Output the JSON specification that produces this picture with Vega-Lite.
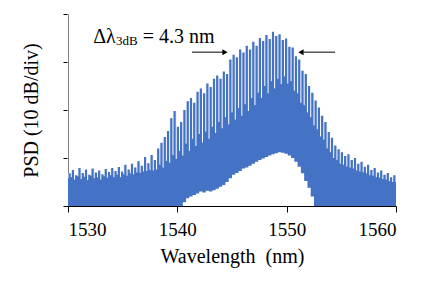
{
  "$schema": "https://vega.github.io/schema/vega-lite/v6.json",
  "autosize": {"type": "none"},
  "padding": {"left": 68, "top": 14, "right": 36, "bottom": 82},
  "width": 328,
  "height": 192,
  "config": {
    "view": {"stroke": null},
    "font": "Liberation Serif",
    "axis": {"grid": false, "domainColor": "black", "tickColor": "black", "labelColor": "black", "titleColor": "black", "labelFont": "Liberation Serif", "titleFont": "Liberation Serif", "labelFontSize": 19, "titleFontSize": 20, "titleFontWeight": "normal", "zindex": 1}
  },
  "datasets": {
    "spectrum": [
    {"wl":1530.0,"t":6.8,"m":5.8,"l":0},{"wl":1530.3,"t":7.5,"m":6.0,"l":0},{"wl":1530.6,"t":6.4,"m":5.5,"l":0},{"wl":1530.9,"t":7.9,"m":6.2,"l":0},
    {"wl":1531.2,"t":6.9,"m":5.6,"l":0},{"wl":1531.5,"t":7.6,"m":6.1,"l":0},{"wl":1531.8,"t":6.5,"m":5.4,"l":0},{"wl":1532.1,"t":7.8,"m":6.3,"l":0},
    {"wl":1532.4,"t":7.0,"m":5.8,"l":0},{"wl":1532.7,"t":7.4,"m":6.0,"l":0},{"wl":1533.0,"t":6.6,"m":5.5,"l":0},{"wl":1533.3,"t":7.7,"m":6.2,"l":0},
    {"wl":1533.6,"t":7.1,"m":5.9,"l":0},{"wl":1533.9,"t":7.9,"m":6.4,"l":0},{"wl":1534.2,"t":7.3,"m":6.0,"l":0},{"wl":1534.5,"t":8.1,"m":6.5,"l":0},
    {"wl":1534.8,"t":7.2,"m":6.0,"l":0},{"wl":1535.1,"t":8.6,"m":6.6,"l":0},{"wl":1535.4,"t":7.6,"m":6.3,"l":0},{"wl":1535.7,"t":8.8,"m":6.8,"l":0},
    {"wl":1536.0,"t":8.0,"m":6.6,"l":0},{"wl":1536.3,"t":9.3,"m":7.0,"l":0},{"wl":1536.6,"t":8.4,"m":6.9,"l":0},{"wl":1536.9,"t":10.2,"m":7.2,"l":0},
    {"wl":1537.2,"t":8.9,"m":7.3,"l":0},{"wl":1537.5,"t":10.6,"m":7.5,"l":0},{"wl":1537.8,"t":9.6,"m":7.4,"l":0},{"wl":1538.1,"t":12.0,"m":7.6,"l":0},
    {"wl":1538.4,"t":13.2,"m":8.6,"l":0},{"wl":1538.7,"t":14.4,"m":8.0,"l":0},{"wl":1539.0,"t":15.6,"m":9.4,"l":0},{"wl":1539.3,"t":18.3,"m":9.0,"l":0},
    {"wl":1539.6,"t":19.8,"m":10.6,"l":0},{"wl":1539.9,"t":16.5,"m":9.8,"l":0},{"wl":1540.2,"t":17.5,"m":11.5,"l":0},{"wl":1540.5,"t":20.0,"m":10.5,"l":0.8},
    {"wl":1540.8,"t":21.8,"m":13.0,"l":1.6},{"wl":1541.1,"t":22.5,"m":11.5,"l":2.0},{"wl":1541.4,"t":21.5,"m":14.0,"l":2.3},{"wl":1541.7,"t":23.8,"m":12.5,"l":2.6},
    {"wl":1542.0,"t":24.5,"m":15.0,"l":3.0},{"wl":1542.3,"t":23.5,"m":13.2,"l":2.8},{"wl":1542.6,"t":25.5,"m":15.5,"l":3.2},{"wl":1542.9,"t":24.8,"m":14.0,"l":3.0},
    {"wl":1543.2,"t":26.5,"m":16.5,"l":3.3},{"wl":1543.5,"t":27.2,"m":15.2,"l":3.6},{"wl":1543.8,"t":26.5,"m":17.5,"l":4.0},{"wl":1544.1,"t":28.0,"m":16.2,"l":4.4},
    {"wl":1544.4,"t":27.5,"m":18.5,"l":5.0},{"wl":1544.7,"t":30.5,"m":17.0,"l":5.8},{"wl":1545.0,"t":31.5,"m":19.5,"l":6.5},{"wl":1545.3,"t":31.0,"m":18.0,"l":6.9},
    {"wl":1545.6,"t":32.6,"m":20.4,"l":7.3},{"wl":1545.9,"t":32.0,"m":18.8,"l":7.8},{"wl":1546.2,"t":33.4,"m":21.2,"l":8.0},{"wl":1546.5,"t":32.6,"m":19.8,"l":8.4},
    {"wl":1546.8,"t":34.2,"m":22.5,"l":8.8},{"wl":1547.1,"t":33.4,"m":21.0,"l":9.2},{"wl":1547.4,"t":35.0,"m":23.6,"l":9.6},{"wl":1547.7,"t":34.4,"m":22.5,"l":9.9},
    {"wl":1548.0,"t":35.6,"m":25.0,"l":10.2},{"wl":1548.3,"t":34.8,"m":23.5,"l":10.5},{"wl":1548.6,"t":36.3,"m":26.0,"l":10.8},{"wl":1548.9,"t":35.4,"m":24.5,"l":11.0},
    {"wl":1549.2,"t":35.8,"m":26.5,"l":11.2},{"wl":1549.5,"t":34.6,"m":25.4,"l":11.1},{"wl":1549.8,"t":34.9,"m":27.0,"l":10.9},{"wl":1550.1,"t":33.2,"m":25.5,"l":10.5},
    {"wl":1550.4,"t":33.0,"m":26.0,"l":10.0},{"wl":1550.7,"t":31.2,"m":24.0,"l":9.2},{"wl":1551.0,"t":30.5,"m":23.5,"l":8.2},{"wl":1551.3,"t":28.2,"m":21.5,"l":6.8},
    {"wl":1551.6,"t":27.5,"m":21.0,"l":5.2},{"wl":1551.9,"t":25.0,"m":19.5,"l":3.8},{"wl":1552.2,"t":23.6,"m":18.5,"l":2.0},{"wl":1552.5,"t":22.0,"m":16.8,"l":0},
    {"wl":1552.8,"t":20.5,"m":16.0,"l":0},{"wl":1553.1,"t":18.8,"m":14.5,"l":0},{"wl":1553.4,"t":17.5,"m":13.8,"l":0},{"wl":1553.7,"t":15.4,"m":12.0,"l":0},
    {"wl":1554.0,"t":14.2,"m":11.2,"l":0},{"wl":1554.3,"t":12.6,"m":10.0,"l":0},{"wl":1554.6,"t":11.8,"m":9.6,"l":0},{"wl":1554.9,"t":11.2,"m":8.8,"l":0},
    {"wl":1555.2,"t":10.4,"m":8.6,"l":0},{"wl":1555.5,"t":10.8,"m":8.2,"l":0},{"wl":1555.8,"t":9.6,"m":8.0,"l":0},{"wl":1556.1,"t":10.0,"m":7.8,"l":0},
    {"wl":1556.4,"t":8.8,"m":7.4,"l":0},{"wl":1556.7,"t":9.2,"m":7.2,"l":0},{"wl":1557.0,"t":8.2,"m":7.0,"l":0},{"wl":1557.3,"t":8.6,"m":6.8,"l":0},
    {"wl":1557.6,"t":7.5,"m":6.4,"l":0},{"wl":1557.9,"t":7.9,"m":6.3,"l":0},{"wl":1558.2,"t":7.0,"m":6.0,"l":0},{"wl":1558.5,"t":7.4,"m":5.9,"l":0},
    {"wl":1558.8,"t":6.5,"m":5.6,"l":0},{"wl":1559.1,"t":6.9,"m":5.5,"l":0},{"wl":1559.4,"t":6.0,"m":5.2,"l":0},{"wl":1559.7,"t":6.4,"m":5.0,"l":0},
    {"wl":1560.0,"t":5.6,"m":4.9,"l":0}
    ],
    "labels": [
      {"x": 1532.31, "y": 34.0, "txt": "Δλ", "part": "main"},
      {"x": 1534.39, "y": 33.5, "txt": "3dB", "part": "sub"},
      {"x": 1536.83, "y": 34.0, "txt": "= 4.3 nm", "part": "main2"}
    ],
    "arrows": [
      {"x": 1541.34, "x2": 1544.3, "y": 32.05, "tip": 1544.36, "dir": "right"},
      {"x": 1551.4, "x2": 1554.42, "y": 32.05, "tip": 1551.31, "dir": "left"}
    ]
  },
  "layer": [
    {"data": {"name": "spectrum"},
     "mark": {"type": "area", "interpolate": "step-after", "color": "#4472C4"},
     "encoding": {
       "x": {"field": "wl", "type": "quantitative", "scale": {"domain": [1530, 1560], "nice": false, "zero": false},
         "axis": {"values": [1530, 1540, 1550, 1560], "title": "Wavelength\u00a0 (nm)", "tickSize": 6, "labelPadding": 8, "titlePadding": 7, "format": "d"}},
       "y": {"field": "l", "type": "quantitative", "scale": {"domain": [0, 40], "nice": false},
         "axis": {"values": [0, 10, 20, 30, 40], "labels": false, "title": "PSD (10 dB/div)", "tickSize": 5, "titlePadding": 21}},
       "y2": {"field": "t"}}},
    {"data": {"name": "spectrum"},
     "mark": {"type": "rule", "color": "white", "strokeWidth": 1},
     "encoding": {"x": {"field": "wl", "type": "quantitative"}, "y": {"field": "m", "type": "quantitative"}, "y2": {"datum": 40}}},
    {"data": {"name": "labels"},
     "transform": [{"filter": "datum.part !== 'sub'"}],
     "mark": {"type": "text", "align": "left", "baseline": "alphabetic", "fontSize": 20, "font": "Liberation Serif", "color": "black"},
     "encoding": {"x": {"field": "x", "type": "quantitative"}, "y": {"field": "y", "type": "quantitative"}, "text": {"field": "txt"}}},
    {"data": {"name": "labels"},
     "transform": [{"filter": "datum.part === 'sub'"}],
     "mark": {"type": "text", "align": "left", "baseline": "alphabetic", "fontSize": 13, "font": "Liberation Serif", "color": "black"},
     "encoding": {"x": {"field": "x", "type": "quantitative"}, "y": {"field": "y", "type": "quantitative"}, "text": {"field": "txt"}}},
    {"data": {"name": "arrows"},
     "mark": {"type": "rule", "color": "black", "strokeWidth": 1},
     "encoding": {"x": {"field": "x", "type": "quantitative"}, "x2": {"field": "x2"}, "y": {"field": "y", "type": "quantitative"}}},
    {"data": {"name": "arrows"},
     "mark": {"type": "point", "filled": true, "color": "black", "size": 36, "opacity": 1},
     "encoding": {"x": {"field": "tip", "type": "quantitative"}, "y": {"field": "y", "type": "quantitative"},
       "shape": {"field": "dir", "type": "nominal", "scale": {"domain": ["right", "left"], "range": ["triangle-right", "triangle-left"]}, "legend": null}}}
  ]
}
